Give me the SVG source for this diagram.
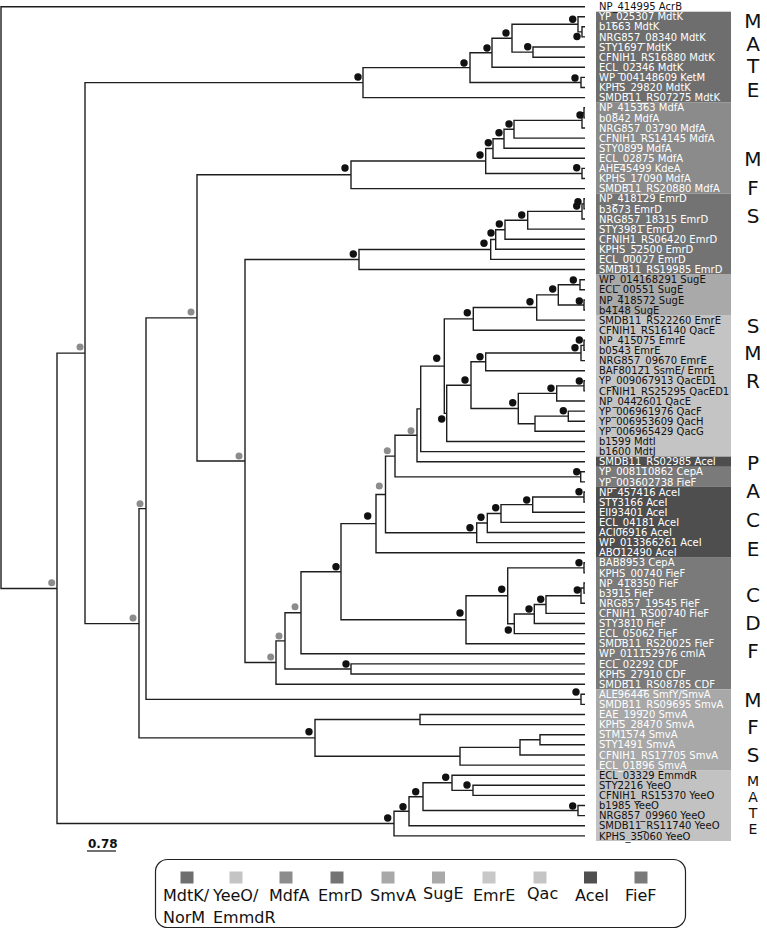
<svg xmlns="http://www.w3.org/2000/svg" width="767" height="929" viewBox="0 0 767 929">
<style>
.br{fill:none;stroke:#1e1e1e;stroke-width:1.4}
.bd{fill:#111}
.gd{fill:#8c8c8c}
.lw{font-family:"DejaVu Sans",Verdana,sans-serif;font-size:10px;fill:#fff}
.lb{font-family:"DejaVu Sans",Verdana,sans-serif;font-size:10px;fill:#111}
.gl{font-family:"DejaVu Sans",Verdana,sans-serif;font-size:20px;fill:#111;text-anchor:middle}
.gs{font-family:"DejaVu Sans",Verdana,sans-serif;font-size:14px;fill:#111;text-anchor:middle}
.lg{font-family:"DejaVu Sans",Verdana,sans-serif;font-size:16px;fill:#111}
</style>
<rect width="767" height="929" fill="#fff"/>
<g id="boxes">
<rect x="596" y="11.7" width="135" height="90.9" fill="#6e6e6e"/>
<rect x="596" y="102.6" width="135" height="91.1" fill="#8b8b8b"/>
<rect x="596" y="193.7" width="135" height="80.9" fill="#737373"/>
<rect x="596" y="274.6" width="135" height="40.4" fill="#a9a9a9"/>
<rect x="596" y="315" width="135" height="141.6" fill="#c4c4c4"/>
<rect x="596" y="456.6" width="135" height="10.2" fill="#4e4e4e"/>
<rect x="596" y="466.8" width="135" height="20.1" fill="#7a7a7a"/>
<rect x="596" y="486.9" width="135" height="70.8" fill="#4e4e4e"/>
<rect x="596" y="557.7" width="135" height="131.5" fill="#7a7a7a"/>
<rect x="596" y="689.2" width="135" height="80.9" fill="#a8a8a8"/>
<rect x="596" y="770.1" width="135" height="70.9" fill="#c2c2c2"/>
</g>
<g id="connectors" class="br">
<path d="M585 26.8H582V36.9H585"/>
<path d="M585 16.7H578V31.85H582"/>
<path d="M585 47H533V57.2H585"/>
<path d="M578 24.3H512V52.1H533"/>
<path d="M512 38.2H492V67.3H585"/>
<path d="M585 77.4H581V87.5H585"/>
<path d="M492 52.75H470V82.45H581"/>
<path d="M470 67.6H363V97.6H585"/>
<path d="M585 107.7H584V117.9H585"/>
<path d="M584 112.8H582V128H585"/>
<path d="M582 120.4H514V138.1H585"/>
<path d="M514 129.25H504V148.2H585"/>
<path d="M504 138.7H493V158.3H585"/>
<path d="M585 168.4H582V178.5H585"/>
<path d="M493 148.5H485.7V173.45H582"/>
<path d="M485.7 161H351V188.6H585"/>
<path d="M585 198.8H584V208.9H585"/>
<path d="M584 203.85H582V219H585"/>
<path d="M582 211.4H527.7V229.1H585"/>
<path d="M527.7 220.25H505V239.2H585"/>
<path d="M505 229.7H495.7V249.3H585"/>
<path d="M495.7 239.5H490.7V259.4H585"/>
<path d="M490.7 249.45H359V269.5H585"/>
<path d="M585 279.7H580V289.8H585"/>
<path d="M585 299.9H584V310H585"/>
<path d="M580 284.75H558.3V304.95H584"/>
<path d="M558.3 294.85H536.7V320.1H585"/>
<path d="M536.7 307.5H473.3V330.2H585"/>
<path d="M585 340.3H584V350.4H585"/>
<path d="M584 345.35H581V360.6H585"/>
<path d="M581 352.95H485.7V370.7H585"/>
<path d="M585 380.8H584V390.9H585"/>
<path d="M584 385.85H556.7V401H585"/>
<path d="M585 411.1H568.3V421.2H585"/>
<path d="M568.3 416.15H535V431.3H585"/>
<path d="M556.7 393.4H518.3V423.7H535"/>
<path d="M485.7 361.8H471V408.55H518.3"/>
<path d="M471 385.2H446.7V441.5H585"/>
<path d="M473.3 318.85H444.3V413.35H446.7"/>
<path d="M444.3 366.1H420.7V451.6H585"/>
<path d="M420.7 408.85H417V461.7H585"/>
<path d="M585 471.8H580.7V481.9H585"/>
<path d="M417 435.3H395V476.85H580.7"/>
<path d="M585 492H584V502.1H585"/>
<path d="M584 497.05H532.7V512.2H585"/>
<path d="M532.7 504.6H501V522.4H585"/>
<path d="M501 513.5H487.3V532.5H585"/>
<path d="M487.3 523H476.7V542.6H585"/>
<path d="M395 456.1H385.5V532.8H476.7"/>
<path d="M385.5 494.45H376V552.7H585"/>
<path d="M585 562.8H584V572.9H585"/>
<path d="M585 583H584V593.1H585"/>
<path d="M584 588.05H581V603.3H585"/>
<path d="M581 595.7H546V613.4H585"/>
<path d="M546 604.55H534.3V623.5H585"/>
<path d="M534.3 614H514.3V633.6H585"/>
<path d="M584 567.85H507.7V623.8H514.3"/>
<path d="M507.7 595.8H466V643.7H585"/>
<path d="M376 523.6H341V619.75H466"/>
<path d="M341 571.7H301V653.8H585"/>
<path d="M585 663.9H351V674H585"/>
<path d="M301 612.75H285V668.95H351"/>
<path d="M285 640.85H276V684.2H585"/>
<path d="M359 259.5H245V662.5H276"/>
<path d="M351 174.8H197V461H245"/>
<path d="M585 694.3H581V704.4H585"/>
<path d="M197 317.9H146V699.35H581"/>
<path d="M585 714.5H420V724.6H585"/>
<path d="M585 734.7H540V744.8H585"/>
<path d="M540 739.75H520V755H585"/>
<path d="M520 747.4H460V765.1H585"/>
<path d="M420 719.55H315V756.25H460"/>
<path d="M146 508.6H139V737.9H315"/>
<path d="M363 82.6H85V623.65H139"/>
<path d="M585 785.3H473V795.4H585"/>
<path d="M585 775.2H452V790.35H473"/>
<path d="M585 805.5H578V815.6H585"/>
<path d="M452 782.8H423V810.55H578"/>
<path d="M423 796.7H409V825.7H585"/>
<path d="M409 811.2H394V835.9H585"/>
<path d="M85 353.1H57V823.55H394"/>
<path d="M585 6.7H1V588.45H57"/>
</g>
<g id="support">
<circle class="bd" cx="358" cy="77" r="3.7"/>
<circle class="bd" cx="464" cy="63" r="3.7"/>
<circle class="bd" cx="487" cy="48" r="3.7"/>
<circle class="bd" cx="506" cy="33" r="3.7"/>
<circle class="bd" cx="527.7" cy="46.7" r="3.7"/>
<circle class="bd" cx="572.7" cy="19.3" r="3.7"/>
<circle class="bd" cx="577" cy="36.5" r="3.7"/>
<circle class="bd" cx="575" cy="78" r="3.7"/>
<circle class="bd" cx="345" cy="168" r="3.7"/>
<circle class="bd" cx="480" cy="155" r="3.7"/>
<circle class="bd" cx="488.3" cy="142.7" r="3.7"/>
<circle class="bd" cx="499" cy="132.7" r="3.7"/>
<circle class="bd" cx="509" cy="124" r="3.7"/>
<circle class="bd" cx="580" cy="115" r="3.7"/>
<circle class="bd" cx="576.7" cy="167.7" r="3.7"/>
<circle class="bd" cx="353.3" cy="254" r="3.7"/>
<circle class="bd" cx="484" cy="243.3" r="3.7"/>
<circle class="bd" cx="491" cy="233" r="3.7"/>
<circle class="bd" cx="499.3" cy="224" r="3.7"/>
<circle class="bd" cx="521.7" cy="215" r="3.7"/>
<circle class="bd" cx="578" cy="201.7" r="3.7"/>
<circle class="bd" cx="576.7" cy="206" r="3.7"/>
<circle class="bd" cx="573.3" cy="280" r="3.7"/>
<circle class="bd" cx="552.7" cy="289" r="3.7"/>
<circle class="bd" cx="579.3" cy="301" r="3.7"/>
<circle class="bd" cx="530" cy="301.7" r="3.7"/>
<circle class="bd" cx="467.3" cy="312.7" r="3.7"/>
<circle class="bd" cx="579.3" cy="340" r="3.7"/>
<circle class="bd" cx="575" cy="347.7" r="3.7"/>
<circle class="bd" cx="480" cy="356.7" r="3.7"/>
<circle class="bd" cx="465" cy="380" r="3.7"/>
<circle class="bd" cx="579.3" cy="381" r="3.7"/>
<circle class="bd" cx="551" cy="388.3" r="3.7"/>
<circle class="bd" cx="512.7" cy="402.7" r="3.7"/>
<circle class="bd" cx="563.3" cy="410.7" r="3.7"/>
<circle class="bd" cx="436.7" cy="358.3" r="3.7"/>
<circle class="bd" cx="441.7" cy="419" r="3.7"/>
<circle class="gd" cx="411" cy="430.7" r="3.5"/>
<circle class="gd" cx="387.3" cy="450.7" r="3.5"/>
<circle class="bd" cx="576.7" cy="471.7" r="3.7"/>
<circle class="bd" cx="579" cy="491.7" r="3.7"/>
<circle class="bd" cx="526.7" cy="500" r="3.7"/>
<circle class="bd" cx="495.7" cy="507.7" r="3.7"/>
<circle class="bd" cx="481" cy="517.3" r="3.7"/>
<circle class="bd" cx="470" cy="527.7" r="3.7"/>
<circle class="gd" cx="379.3" cy="486" r="3.5"/>
<circle class="bd" cx="367.7" cy="516" r="3.7"/>
<circle class="bd" cx="579" cy="562.7" r="3.7"/>
<circle class="bd" cx="577.3" cy="590" r="3.7"/>
<circle class="bd" cx="540.7" cy="599.3" r="3.7"/>
<circle class="bd" cx="529" cy="609" r="3.7"/>
<circle class="bd" cx="508.3" cy="630" r="3.7"/>
<circle class="bd" cx="501.7" cy="589.3" r="3.7"/>
<circle class="bd" cx="460" cy="613" r="3.7"/>
<circle class="bd" cx="336" cy="566.7" r="3.7"/>
<circle class="gd" cx="295" cy="606.7" r="3.5"/>
<circle class="bd" cx="346" cy="664" r="3.7"/>
<circle class="gd" cx="279" cy="636" r="3.5"/>
<circle class="gd" cx="270.7" cy="657" r="3.5"/>
<circle class="gd" cx="239" cy="456" r="3.5"/>
<circle class="gd" cx="191" cy="312" r="3.5"/>
<circle class="gd" cx="140" cy="503.7" r="3.5"/>
<circle class="gd" cx="133" cy="618" r="3.5"/>
<circle class="gd" cx="80" cy="347" r="3.5"/>
<circle class="gd" cx="51.7" cy="582.7" r="3.5"/>
<circle class="bd" cx="576" cy="692" r="3.7"/>
<circle class="bd" cx="309" cy="731.7" r="3.7"/>
<circle class="bd" cx="387.7" cy="818" r="3.7"/>
<circle class="bd" cx="403" cy="806.7" r="3.7"/>
<circle class="bd" cx="415.7" cy="791.7" r="3.7"/>
<circle class="bd" cx="445.7" cy="777.3" r="3.7"/>
<circle class="bd" cx="467" cy="785" r="3.7"/>
<circle class="bd" cx="572.7" cy="806" r="3.7"/>
</g>
<g id="leaves">
<text class="lb" x="599" y="10.3">NP_414995 AcrB</text>
<text class="lw" x="599" y="20.3">YP_025307 MdtK</text>
<text class="lw" x="599" y="30.4">b1663 MdtK</text>
<text class="lw" x="599" y="40.5">NRG857_08340 MdtK</text>
<text class="lw" x="599" y="50.6">STY1697 MdtK</text>
<text class="lw" x="599" y="60.8">CFNIH1_RS16880 MdtK</text>
<text class="lw" x="599" y="70.9">ECL_02346 MdtK</text>
<text class="lw" x="599" y="81">WP_004148609 KetM</text>
<text class="lw" x="599" y="91.1">KPHS_29820 MdtK</text>
<text class="lw" x="599" y="101.2">SMDB11_RS07275 MdtK</text>
<text class="lw" x="599" y="111.3">NP_415363 MdfA</text>
<text class="lw" x="599" y="121.5">b0842 MdfA</text>
<text class="lw" x="599" y="131.6">NRG857_03790 MdfA</text>
<text class="lw" x="599" y="141.7">CFNIH1_RS14145 MdfA</text>
<text class="lw" x="599" y="151.8">STY0899 MdfA</text>
<text class="lw" x="599" y="161.9">ECL_02875 MdfA</text>
<text class="lw" x="599" y="172">AHE45499 KdeA</text>
<text class="lw" x="599" y="182.1">KPHS_17090 MdfA</text>
<text class="lw" x="599" y="192.2">SMDB11_RS20880 MdfA</text>
<text class="lw" x="599" y="202.4">NP_418129 EmrD</text>
<text class="lw" x="599" y="212.5">b3673 EmrD</text>
<text class="lw" x="599" y="222.6">NRG857_18315 EmrD</text>
<text class="lw" x="599" y="232.7">STY3981 EmrD</text>
<text class="lw" x="599" y="242.8">CFNIH1_RS06420 EmrD</text>
<text class="lw" x="599" y="252.9">KPHS_52500 EmrD</text>
<text class="lw" x="599" y="263">ECL_00027 EmrD</text>
<text class="lw" x="599" y="273.1">SMDB11_RS19985 EmrD</text>
<text class="lb" x="599" y="283.3">WP_014168291 SugE</text>
<text class="lb" x="599" y="293.4">ECL_00551 SugE</text>
<text class="lb" x="599" y="303.5">NP_418572 SugE</text>
<text class="lb" x="599" y="313.6">b4148 SugE</text>
<text class="lb" x="599" y="323.7">SMDB11_RS22260 EmrE</text>
<text class="lb" x="599" y="333.8">CFNIH1_RS16140 QacE</text>
<text class="lb" x="599" y="343.9">NP_415075 EmrE</text>
<text class="lb" x="599" y="354">b0543 EmrE</text>
<text class="lb" x="599" y="364.2">NRG857_09670 EmrE</text>
<text class="lb" x="599" y="374.3">BAF80121 SsmE/ EmrE</text>
<text class="lb" x="599" y="384.4">YP_009067913 QacED1</text>
<text class="lb" x="599" y="394.5">CFNIH1_RS25295 QacED1</text>
<text class="lb" x="599" y="404.6">NP_0442601 QacE</text>
<text class="lb" x="599" y="414.7">YP_006961976 QacF</text>
<text class="lb" x="599" y="424.8">YP_006953609 QacH</text>
<text class="lb" x="599" y="434.9">YP_006965429 QacG</text>
<text class="lb" x="599" y="445.1">b1599 MdtI</text>
<text class="lb" x="599" y="455.2">b1600 MdtJ</text>
<text class="lw" x="599" y="465.3">SMDB11_RS02985 AceI</text>
<text class="lw" x="599" y="475.4">YP_008110862 CepA</text>
<text class="lw" x="599" y="485.5">YP_003602738 FieF</text>
<text class="lw" x="599" y="495.6">NP_457416 AceI</text>
<text class="lw" x="599" y="505.7">STY3166 AceI</text>
<text class="lw" x="599" y="515.8">EII93401 AceI</text>
<text class="lw" x="599" y="526">ECL_04181 AceI</text>
<text class="lw" x="599" y="536.1">ACI06916 AceI</text>
<text class="lw" x="599" y="546.2">WP_013366261 AceI</text>
<text class="lw" x="599" y="556.3">ABO12490 AceI</text>
<text class="lw" x="599" y="566.4">BAB8953 CepA</text>
<text class="lw" x="599" y="576.5">KPHS_00740 FieF</text>
<text class="lw" x="599" y="586.6">NP_418350 FieF</text>
<text class="lw" x="599" y="596.7">b3915 FieF</text>
<text class="lw" x="599" y="606.9">NRG857_19545 FieF</text>
<text class="lw" x="599" y="617">CFNIH1_RS00740 FieF</text>
<text class="lw" x="599" y="627.1">STY3810 FieF</text>
<text class="lw" x="599" y="637.2">ECL_05062 FieF</text>
<text class="lw" x="599" y="647.3">SMDB11_RS20025 FieF</text>
<text class="lw" x="599" y="657.4">WP_011152976 cmlA</text>
<text class="lw" x="599" y="667.5">ECL_02292 CDF</text>
<text class="lw" x="599" y="677.6">KPHS_27910 CDF</text>
<text class="lw" x="599" y="687.8">SMDB11_RS08785 CDF</text>
<text class="lw" x="599" y="697.9">ALE96446 SmfY/SmvA</text>
<text class="lw" x="599" y="708">SMDB11_RS09695 SmvA</text>
<text class="lw" x="599" y="718.1">EAE_19920 SmvA</text>
<text class="lw" x="599" y="728.2">KPHS_28470 SmvA</text>
<text class="lw" x="599" y="738.3">STM1574 SmvA</text>
<text class="lw" x="599" y="748.4">STY1491 SmvA</text>
<text class="lw" x="599" y="758.6">CFNIH1_RS17705 SmvA</text>
<text class="lw" x="599" y="768.7">ECL_01896 SmvA</text>
<text class="lb" x="599" y="778.8">ECL_03329 EmmdR</text>
<text class="lb" x="599" y="788.9">STY2216 YeeO</text>
<text class="lb" x="599" y="799">CFNIH1_RS15370 YeeO</text>
<text class="lb" x="599" y="809.1">b1985 YeeO</text>
<text class="lb" x="599" y="819.2">NRG857_09960 YeeO</text>
<text class="lb" x="599" y="829.3">SMDB11_RS11740 YeeO</text>
<text class="lb" x="599" y="839.5">KPHS_35060 YeeO</text>
</g>
<g id="families">
<text class="gl" x="753" y="28">M</text><text class="gl" x="753" y="50.5">A</text><text class="gl" x="753" y="73">T</text><text class="gl" x="753" y="96.5">E</text>
<text class="gl" x="753" y="166">M</text><text class="gl" x="753" y="195">F</text><text class="gl" x="753" y="223">S</text>
<text class="gl" x="753" y="333">S</text><text class="gl" x="753" y="360">M</text><text class="gl" x="753" y="388">R</text>
<text class="gl" x="753" y="470">P</text><text class="gl" x="753" y="498">A</text><text class="gl" x="753" y="527">C</text><text class="gl" x="753" y="556">E</text>
<text class="gl" x="753" y="602">C</text><text class="gl" x="753" y="630">D</text><text class="gl" x="753" y="658">F</text>
<text class="gl" x="753" y="707">M</text><text class="gl" x="753" y="734">F</text><text class="gl" x="753" y="762">S</text>
<text class="gs" x="753" y="786">M</text><text class="gs" x="753" y="802">A</text><text class="gs" x="753" y="818">T</text><text class="gs" x="753" y="834">E</text>
</g>
<g id="scale">
<text x="88" y="848" font-family="DejaVu Sans,Verdana,sans-serif" font-size="12" font-weight="bold" fill="#111">0.78</text>
<line x1="87" y1="851" x2="116" y2="851" stroke="#111" stroke-width="1.2"/>
</g>
<g id="legend">
<rect x="155.5" y="859.5" width="530" height="68" rx="12" fill="#fff" stroke="#222" stroke-width="1.2"/>
<rect x="180.5" y="871.5" width="13" height="12" fill="#6e6e6e"/>
<rect x="229.5" y="871.5" width="13" height="12" fill="#c4c4c4"/>
<rect x="279.5" y="871.5" width="13" height="12" fill="#8c8c8c"/>
<rect x="330.5" y="871.5" width="13" height="12" fill="#747474"/>
<rect x="381.5" y="871.5" width="13" height="12" fill="#a8a8a8"/>
<rect x="432" y="871.5" width="13" height="12" fill="#a9a9a9"/>
<rect x="482.5" y="871.5" width="13" height="12" fill="#c8c8c8"/>
<rect x="533.5" y="871.5" width="13" height="12" fill="#c5c5c5"/>
<rect x="584" y="871.5" width="13" height="12" fill="#505050"/>
<rect x="634.5" y="871.5" width="13" height="12" fill="#7a7a7a"/>
<text class="lg" x="163" y="901">MdtK/</text><text class="lg" x="163" y="923">NorM</text>
<text class="lg" x="213" y="901">YeeO/</text><text class="lg" x="213" y="923">EmmdR</text>
<text class="lg" x="269" y="901">MdfA</text>
<text class="lg" x="318" y="901">EmrD</text>
<text class="lg" x="370" y="901">SmvA</text>
<text class="lg" x="423" y="899">SugE</text>
<text class="lg" x="473" y="901">EmrE</text>
<text class="lg" x="527" y="899">Qac</text>
<text class="lg" x="575" y="901">AceI</text>
<text class="lg" x="625" y="901">FieF</text>
</g>
</svg>
